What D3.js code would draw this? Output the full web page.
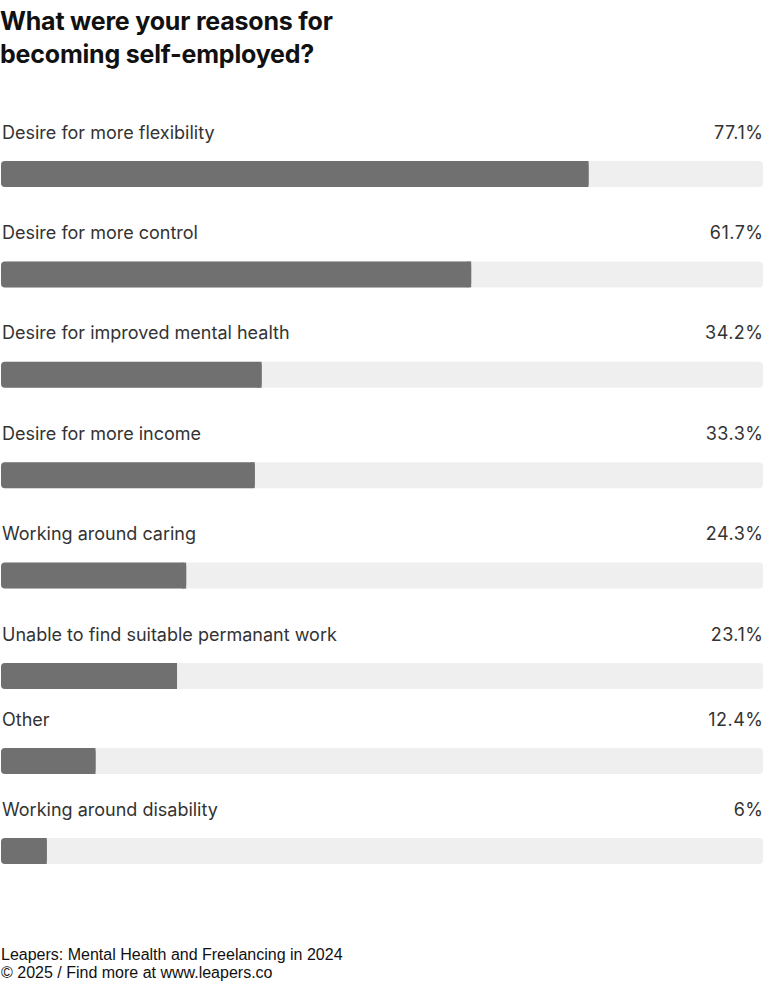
<!DOCTYPE html>
<html><head><meta charset="utf-8">
<script src="https://cdn.jsdelivr.net/npm/d3@7"></script>
<style>body{margin:0;background:#fff}</style>
</head><body>
<script>
const categories = ["Desire for more flexibility","Desire for more control","Desire for improved mental health","Desire for more income","Working around caring","Unable to find suitable permanant work","Other","Working around disability"];
const values = [77.1, 61.7, 34.2, 33.3, 24.3, 23.1, 12.4, 6];
const valueLabels = ["77.1%","61.7%","34.2%","33.3%","24.3%","23.1%","12.4%","6%"];
const titleLines = ["What were your reasons for","becoming self-employed?"];
const footerLines = ["Leapers: Mental Health and Freelancing in 2024","© 2025 / Find more at www.leapers.co"];

const W = 783, H = 994;
const svg = d3.select("body").append("svg").attr("width", W).attr("height", H);

const x = d3.scaleLinear().domain([0, 100]).range([1, 763]);
// row positions (bar tops); last rows are more compact in the original layout
const y = d3.scaleLinear().domain([0, 5, 6, 7]).range([161, 663, 748, 838]);
const barH = 26;

svg.selectAll("text.title").data(titleLines).join("text")
  .attr("x", 0).attr("y", (d, i) => 30 + i * 33)
  .attr("font-family", "Inter, sans-serif").attr("font-weight", 700)
  .attr("font-size", 25).attr("letter-spacing", -0.2).attr("fill", "#111").text(d => d);

const rows = svg.selectAll("g.row").data(categories).join("g").attr("class", "row");

rows.append("rect").attr("x", x(0)).attr("y", (d, i) => y(i))
  .attr("width", x(100) - x(0)).attr("height", barH).attr("rx", 4).attr("fill", "#efefef");

rows.append("rect").attr("x", x(0)).attr("y", (d, i) => y(i))
  .attr("width", (d, i) => x(values[i]) - x(0)).attr("height", barH).attr("rx", 4).attr("fill", "#707070");
rows.append("rect").attr("x", (d, i) => Math.max(x(0) + 4, x(values[i]) - 4)).attr("y", (d, i) => y(i))
  .attr("width", (d, i) => Math.min(4, x(values[i]) - x(0) - 4)).attr("height", barH).attr("fill", "#707070");

rows.append("text").attr("x", 2).attr("y", (d, i) => y(i) - 22.5)
  .attr("font-family", "Inter, sans-serif").attr("font-size", 18).attr("fill", "#333").text(d => d);
rows.append("text").attr("x", 763.5).attr("y", (d, i) => y(i) - 22.5).attr("text-anchor", "end")
  .attr("font-family", "Inter, sans-serif").attr("font-size", 18).attr("letter-spacing", 0.5)
  .attr("fill", "#333").text((d, i) => valueLabels[i]);

svg.selectAll("text.foot").data(footerLines).join("text")
  .attr("x", 1).attr("y", (d, i) => 960 + i * 18)
  .attr("font-family", "'Liberation Sans', Arial, sans-serif").attr("font-size", 16).attr("fill", "#111").text(d => d);
</script>
</body></html>
